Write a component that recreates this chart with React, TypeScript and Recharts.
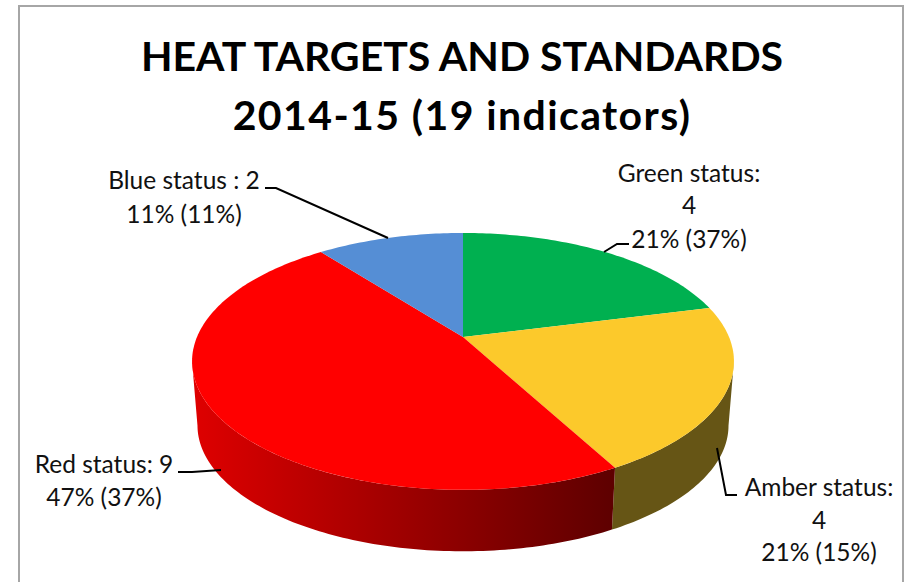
import React from "react";
import { Pie, PieChart } from "recharts";

const statuses = ["Green status", "Amber status", "Red status", "Blue status"];
const counts = [4, 4, 9, 2];
const lastYearPct = [37, 15, 37, 11];
const topColors = ["#00B050", "#FCC92B", "#FF0000", "#558ED5"];
const wallColors = ["#00692F", "#665515", "url(#redWall)", "#2F5597"];

const titleLines = ["HEAT TARGETS AND STANDARDS", "2014-15 (19 indicators)"];
const titleSpacing = [0, 1.4];

const data = statuses.map((name, i) => ({ name, value: counts[i], lastYear: lastYearPct[i] }));

const FONT = "Lato, Carlito, 'Open Sans', sans-serif";

// how the flat pie gets tilted into the picture
const TILT = 0.4654;
const PERSPECTIVE = 0.19;
const BASE_SCALE = 0.98;
const BASE_DROP = 64.5;
const WALL_FROM = 101;
const WALL_TO = 259;

type Pt = [number, number];

const project = (deg: number, cx: number, cy: number, r: number): Pt => {
  const t = (deg * Math.PI) / 180;
  const u = Math.sin(t);
  const v = Math.cos(t);
  const w = 1 + PERSPECTIVE * v;
  return [cx + (r * u) / w, cy - (r * TILT * v) / w];
};

const projectBase = (deg: number, cx: number, cy: number, r: number): Pt => {
  const [x, y] = project(deg, cx, cy, r);
  return [cx + (x - cx) * BASE_SCALE, cy + BASE_DROP + (y - cy) * BASE_SCALE];
};

const arc = (a: number, b: number, fn: (d: number) => Pt): Pt[] => {
  const steps = Math.max(2, Math.ceil(Math.abs(b - a)));
  const out: Pt[] = [];
  for (let i = 0; i <= steps; i++) out.push(fn(a + ((b - a) * i) / steps));
  return out;
};

const toPath = (pts: Pt[]) =>
  "M" + pts.map((p) => `${p[0].toFixed(2)},${p[1].toFixed(2)}`).join("L") + "Z";

const Slice3D = (props: any) => {
  const { cx, cy, outerRadius, startAngle, endAngle, index, fill } = props;
  const a = 90 - startAngle;
  const b = 90 - endAngle;
  const top = arc(a, b, (d) => project(d, cx, cy, outerRadius));
  const from = Math.max(a, WALL_FROM);
  const to = Math.min(b, WALL_TO);
  return (
    <g>
      {from < to && (
        <path
          d={toPath([
            ...arc(from, to, (d) => project(d, cx, cy, outerRadius)),
            ...arc(to, from, (d) => projectBase(d, cx, cy, outerRadius)),
          ])}
          fill={wallColors[index]}
        />
      )}
      <path d={toPath([[cx, cy], ...top])} fill={fill ?? topColors[index]} />
    </g>
  );
};

// leader lines and text blocks, in slice order
const leaderLines = [
  "604,252 617,244 629,244",
  "717,448 726,495 737,495",
  "178,472 192,472 221,470",
  "265,188 276,188 388,238",
];
const labelCentres = [689, 819, 104, 184];
const labelBaselines = [
  [182, 214, 248],
  [496, 529, 561],
  [473, 506],
  [189, 223],
];

const renderLabel = (props: any) => {
  const { index, percent } = props;
  const row = data[index];
  const pctText = `${Math.round(percent * 100)}% (${row.lastYear}%)`;
  const sep = row.name === "Blue status" ? " :" : ":";
  const lines =
    labelBaselines[index].length === 3
      ? [`${row.name}${sep}`, `${row.value}`, pctText]
      : [`${row.name}${sep} ${row.value}`, pctText];
  return (
    <g key={row.name}>
      <polyline points={leaderLines[index]} fill="none" stroke="#000" strokeWidth={2} />
      {lines.map((line, i) => (
        <text
          key={i}
          x={labelCentres[index]}
          y={labelBaselines[index][i]}
          textAnchor="middle"
          fontFamily={FONT}
          fontSize={24.5}
          fill="#111"
        >
          {line}
        </text>
      ))}
    </g>
  );
};

export default function App() {
  return (
    <div style={{ position: "absolute", left: 0, top: 0, width: 908, height: 582, overflow: "hidden", background: "#fff" }}>
      <div
        style={{
          position: "absolute",
          left: 18,
          top: 5,
          width: 886,
          height: 600,
          border: "2px solid #a6a6a6",
          boxSizing: "border-box",
        }}
      />
      <div style={{ position: "absolute", left: 0, top: 0 }}>
        <PieChart width={908} height={582} margin={{ top: 0, right: 0, bottom: 0, left: 0 }}>
          <defs>
            <linearGradient id="redWall" gradientUnits="userSpaceOnUse" x1={195} y1={0} x2={612} y2={0}>
              <stop offset="0%" stopColor="#DE0000" />
              <stop offset="65%" stopColor="#8A0000" />
              <stop offset="100%" stopColor="#5E0000" />
            </linearGradient>
          </defs>
          {titleLines.map((line, i) => (
            <text
              key={line}
              x={462}
              y={71 + i * 59}
              textAnchor="middle"
              fontFamily={FONT}
              fontWeight={700}
              fontSize={41}
              letterSpacing={titleSpacing[i]}
              fill="#000"
            >
              {line}
            </text>
          ))}
          <Pie
            data={data}
            dataKey="value"
            nameKey="name"
            cx={463}
            cy={337}
            innerRadius={0}
            outerRadius={266}
            startAngle={90}
            endAngle={-270}
            stroke="none"
            isAnimationActive={false}
            shape={(p: any) => <Slice3D {...p} fill={topColors[p.index]} />}
            label={renderLabel}
            labelLine={false}
          />
          <line x1={463} y1={234} x2={463} y2={337} stroke="#ffffff" strokeOpacity={0.45} strokeWidth={1} />
        </PieChart>
      </div>
    </div>
  );
}
